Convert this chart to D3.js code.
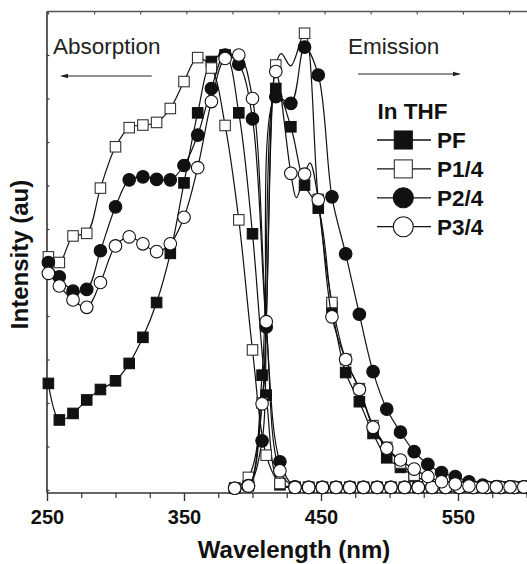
<!DOCTYPE html>
<html><head><meta charset="utf-8">
<script src="https://cdn.jsdelivr.net/npm/d3@7"></script>
<style>
html,body{margin:0;padding:0;background:#fff;}
svg{display:block;font-family:"Liberation Sans",Arial,Helvetica,sans-serif;}
</style></head><body>
<svg id="chart" width="527" height="564"></svg>
<script>
// ---- data ----
const seriesNames = ["PF", "P1/4", "P2/4", "P3/4"];
const xTicksMajor = [250, 350, 450, 550];
const xTicksMinor = [275, 300, 325, 375, 400, 425, 475, 500, 525, 575, 600];
const yTicks = [0, 0.1, 0.2, 0.3, 0.4, 0.5, 0.6, 0.7, 0.8, 0.9, 1.0];
const topTicks = [0, 1, 2, 3, 4, 5, 6, 7, 8, 9, 10];

// absorption wavelengths (nm)
const absWl = [251, 259, 269, 279, 289, 300, 310, 320, 330, 340, 350, 360, 370, 380, 390, 400, 410, 420,
  431, 441, 451, 461, 471, 481, 491, 501, 511, 521, 531, 541, 551, 561, 571, 581, 591, 601];
const pfAbs  = [0.245, 0.161, 0.176, 0.207, 0.231, 0.251, 0.291, 0.351, 0.431, 0.544, 0.706, 0.867, 0.985, 1.000, 0.867, 0.589, 0.218, 0.012,
  0.006, 0.006, 0.006, 0.006, 0.006, 0.006, 0.006, 0.006, 0.006, 0.006, 0.006, 0.006, 0.006, 0.006, 0.006, 0.006, 0.006, 0.006];
const p14Abs = [0.536, 0.523, 0.584, 0.590, 0.694, 0.789, 0.833, 0.839, 0.845, 0.877, 0.939, 0.994, 0.970, 0.838, 0.621, 0.322, 0.080, 0.015,
  0.006, 0.006, 0.006, 0.006, 0.006, 0.006, 0.006, 0.006, 0.006, 0.006, 0.006, 0.006, 0.006, 0.006, 0.006, 0.006, 0.006, 0.006];
const p24Abs = [0.523, 0.490, 0.457, 0.461, 0.550, 0.651, 0.713, 0.720, 0.714, 0.713, 0.746, 0.816, 0.923, 1.000, 0.979, 0.853, 0.375, 0.065,
  0.007, 0.006, 0.006, 0.006, 0.006, 0.006, 0.006, 0.006, 0.006, 0.006, 0.006, 0.006, 0.006, 0.006, 0.006, 0.006, 0.006, 0.006];
const p34Abs = [0.498, 0.469, 0.437, 0.420, 0.477, 0.561, 0.582, 0.566, 0.548, 0.566, 0.627, 0.741, 0.893, 0.992, 1.000, 0.900, 0.387, 0.044,
  0.006, 0.006, 0.006, 0.006, 0.006, 0.006, 0.006, 0.006, 0.006, 0.006, 0.006, 0.006, 0.006, 0.006, 0.006, 0.006, 0.006, 0.006];

// emission wavelengths (nm)
const emWl = [387, 397, 407, 417, 428, 438, 448, 458, 468, 478, 488, 498, 508, 518, 528, 538, 548, 558, 568, 578, 588, 598];
const pfEm  = [0.004, 0.010, 0.264, 0.923, 0.835, 0.701, 0.648, 0.420, 0.270, 0.203, 0.130, 0.074, 0.052, 0.032, 0.020, 0.013, 0.010, 0.008, 0.007, 0.007, 0.007, 0.007];
const p14Em = [0.005, 0.029, 0.200, 0.977, null, 1.050, 0.668, 0.431, 0.300, 0.233, 0.148, 0.098, 0.062, 0.034, 0.020, 0.012, 0.009, 0.007, 0.007, 0.007, 0.007, 0.007];
const p24Em = [0.004, 0.010, 0.113, 0.904, 0.889, 1.018, 0.954, 0.674, 0.543, 0.404, 0.272, 0.186, 0.133, 0.088, 0.059, 0.040, 0.031, 0.019, 0.011, 0.008, 0.007, 0.007];
const p34Em = [0.004, 0.009, 0.198, 0.962, 0.728, 0.726, 0.667, 0.398, 0.300, 0.231, 0.144, 0.096, 0.069, 0.048, 0.031, 0.019, 0.014, 0.009, 0.007, 0.007, 0.007, 0.007];
// points on the traced line that carry no symbol
const pfEmLineOnly  = [];
const p14EmLineOnly = [[421, 1.003], [428, 0.975]];
const p24EmLineOnly = [];
const p34EmLineOnly = [[432, 0.672], [442, 0.752]];

const symbols = ["square", "square", "circle", "circle"];
const filled = [true, false, true, false];

// ---- layout ----
const svg = d3.select("#chart");
const left = 47, bottom = 493, topY = 11.5;
const x = d3.scaleLinear().domain([250, 600]).range([47, 526.5]);
const y = d3.scaleLinear().domain([0, 1]).range([490, 55]);
const xTop = d3.scaleLinear().domain([0, 10]).range([48, 509]);

const axisColor = "#333";

// frame lines
svg.append("line").attr("x1", left).attr("x2", 527).attr("y1", topY).attr("y2", topY)
  .attr("stroke", "#555").attr("stroke-width", 1.6);

// top axis (ticks pointing inward)
const gTop = svg.append("g").attr("transform", `translate(0,${topY})`)
  .call(d3.axisTop(xTop).tickValues(topTicks).tickSize(-3).tickFormat(""));
gTop.select(".domain").remove();
gTop.selectAll("line").attr("stroke", "#555").attr("stroke-width", 1.2);

// left axis
const gLeft = svg.append("g").attr("transform", `translate(${left},0)`)
  .call(d3.axisLeft(y).tickValues(yTicks).tickSize(-2.5).tickFormat(""));
gLeft.select(".domain").remove();
gLeft.selectAll("line").attr("stroke", axisColor).attr("stroke-width", 1.2);
svg.append("line").attr("x1", left).attr("x2", left).attr("y1", topY).attr("y2", bottom)
  .attr("stroke", axisColor).attr("stroke-width", 1.6);

// bottom axis
const gMin = svg.append("g").attr("transform", `translate(0,${bottom})`)
  .call(d3.axisBottom(x).tickValues(xTicksMinor).tickSize(5).tickFormat(""));
gMin.select(".domain").remove();
gMin.selectAll("line").attr("stroke", axisColor).attr("stroke-width", 1.2);
const gMaj = svg.append("g").attr("transform", `translate(0,${bottom})`)
  .call(d3.axisBottom(x).tickValues(xTicksMajor).tickSize(8).tickPadding(9).tickFormat(d3.format("d")));
gMaj.select(".domain").remove();
gMaj.selectAll("line").attr("stroke", axisColor).attr("stroke-width", 1.4);
gMaj.selectAll("text").attr("font-size", 20).attr("font-weight", "bold").attr("fill", "#111")
  .attr("font-family", "'Liberation Sans',Arial,sans-serif");
svg.append("line").attr("x1", left).attr("x2", 527).attr("y1", bottom).attr("y2", bottom)
  .attr("stroke", axisColor).attr("stroke-width", 1.6);

// axis titles
svg.append("text").attr("x", 294).attr("y", 558).attr("text-anchor", "middle")
  .attr("font-size", 24).attr("font-weight", "bold").attr("fill", "#111").text("Wavelength (nm)");
svg.append("text").attr("transform", "translate(28,254.5) rotate(-90)").attr("text-anchor", "middle")
  .attr("font-size", 24).attr("font-weight", "bold").attr("fill", "#111").text("Intensity (au)");

// ---- series ----
const line = d3.line().x(d => x(d[0])).y(d => y(d[1])).curve(d3.curveCatmullRom.alpha(0.5));
const absSets = [pfAbs, p14Abs, p24Abs, p34Abs];
const emSets = [pfEm, p14Em, p24Em, p34Em];
const lineOnly = [pfEmLineOnly, p14EmLineOnly, p24EmLineOnly, p34EmLineOnly];

function drawMarker(g, sym, fill, cx, cy, size) {
  if (sym === "square") {
    g.append("rect").attr("x", cx - size / 2).attr("y", cy - size / 2).attr("width", size).attr("height", size)
      .attr("fill", fill ? "#111" : "#fff").attr("stroke", fill ? "#111" : "#333").attr("stroke-width", 1.1);
  } else {
    g.append("circle").attr("cx", cx).attr("cy", cy).attr("r", size / 2)
      .attr("fill", fill ? "#111" : "#fff").attr("stroke", "#111").attr("stroke-width", 1.1);
  }
}

for (let s = 0; s < 4; s++) {
  const g = svg.append("g");
  const absPts = absWl.map((w, i) => [w, absSets[s][i]]);
  const emMarks = emWl.map((w, i) => [w, emSets[s][i]]).filter(d => d[1] !== null);
  const emPts = emMarks.concat(lineOnly[s]).sort((a, b) => a[0] - b[0]);
  g.append("path").attr("d", line(absPts)).attr("fill", "none").attr("stroke", "#111").attr("stroke-width", 1.2);
  g.append("path").attr("d", line(emPts)).attr("fill", "none").attr("stroke", "#111").attr("stroke-width", 1.2);
  const size = symbols[s] === "square" ? 10.5 : 12.6;
  absPts.forEach(d => drawMarker(g, symbols[s], filled[s], x(d[0]), y(d[1]), size));
  emMarks.forEach(d => drawMarker(g, symbols[s], filled[s], x(d[0]), y(d[1]), size));
}

// ---- annotations ----
svg.append("text").attr("x", 53).attr("y", 53.5).attr("font-size", 22.5).attr("fill", "#222").text("Absorption");
svg.append("text").attr("x", 348).attr("y", 53.5).attr("font-size", 22.5).attr("fill", "#222").text("Emission");
svg.append("line").attr("x1", 151.7).attr("x2", 62).attr("y1", 76).attr("y2", 76).attr("stroke", "#222").attr("stroke-width", 1.2);
svg.append("path").attr("d", "M60,76 L68,73.8 L68,78.2 Z").attr("fill", "#222");
svg.append("line").attr("x1", 358).attr("x2", 459).attr("y1", 74).attr("y2", 74).attr("stroke", "#222").attr("stroke-width", 1.2);
svg.append("path").attr("d", "M461,74 L453,71.8 L453,76.2 Z").attr("fill", "#222");

// ---- legend ----
const leg = svg.append("g");
leg.append("text").attr("x", 377.5).attr("y", 118.5).attr("font-size", 22.5).attr("font-weight", "bold").attr("fill", "#111").text("In THF");
const legRowY = d3.scalePoint().domain(seriesNames).range([140, 226.7]);
seriesNames.forEach((name, s) => {
  const cy = legRowY(name);
  leg.append("line").attr("x1", 377).attr("x2", 431).attr("y1", cy).attr("y2", cy).attr("stroke", "#111").attr("stroke-width", 1.3);
  drawMarker(leg, symbols[s], filled[s], 403.3, cy, symbols[s] === "square" ? 18 : 20);
  leg.append("text").attr("x", 437).attr("y", cy + 7.8).attr("font-size", 22.5).attr("font-weight", "bold").attr("fill", "#111").text(name);
});
</script>
</body></html>
